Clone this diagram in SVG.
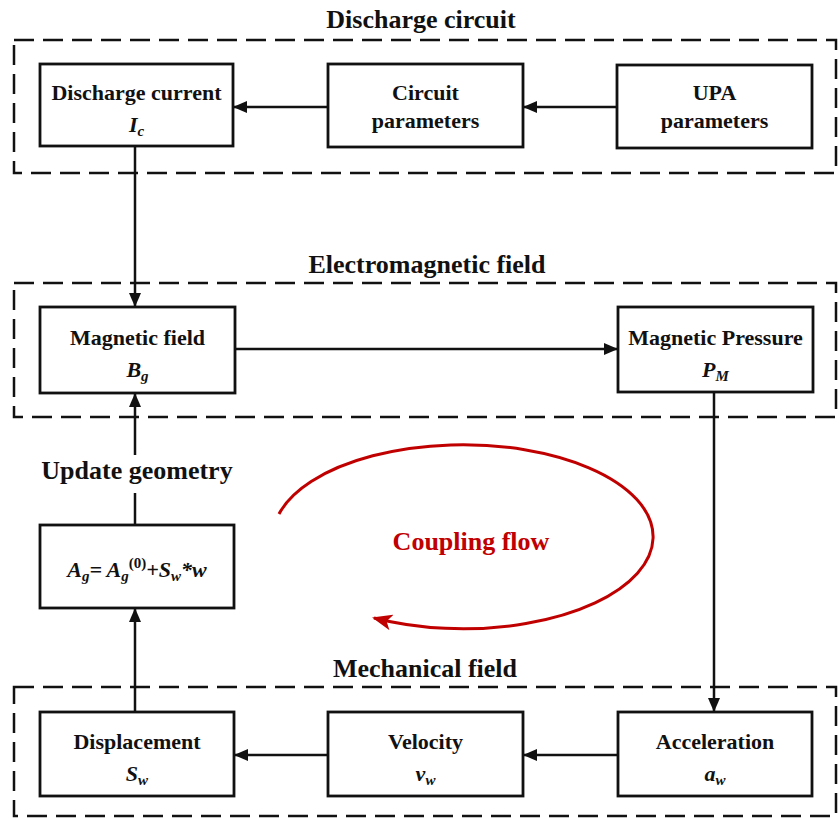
<svg xmlns="http://www.w3.org/2000/svg" width="840" height="818" viewBox="0 0 840 818">
<style>
.grp{fill:none;stroke:#111;stroke-width:2.5;stroke-dasharray:20 9}
.box{fill:#fff;stroke:#111;stroke-width:2.8}
.t{font-family:"Liberation Serif","Times New Roman",serif;font-weight:bold;font-size:22px;fill:#111;text-anchor:middle}
.ttl{font-family:"Liberation Serif","Times New Roman",serif;font-weight:bold;font-size:26px;fill:#111;text-anchor:middle}
.i{font-style:italic}
.s{font-size:15px}
.n{font-style:normal}
.c{stroke:#111;stroke-width:2.5;fill:none}
</style>
<defs>
<marker id="ah" markerUnits="userSpaceOnUse" markerWidth="14" markerHeight="12" viewBox="0 0 14 12" refX="14" refY="6" orient="auto">
<path d="M0,0 L14,6 L0,12 z" fill="#111"/>
</marker>
<marker id="rh" markerUnits="userSpaceOnUse" markerWidth="20" markerHeight="16" viewBox="0 0 20 16" refX="18" refY="8" orient="auto">
<path d="M0,0 L20,8 L0,16 L5,8 z" fill="#c00000"/>
</marker>
</defs>

<g id="group-discharge">
<rect class="grp" x="14" y="40" width="822" height="133"/>
<text class="ttl" x="421" y="28">Discharge circuit</text>
</g>
<g id="group-em">
<rect class="grp" x="14" y="283" width="822" height="134"/>
<text class="ttl" x="427" y="273">Electromagnetic field</text>
</g>
<g id="group-mech">
<rect class="grp" x="14" y="687" width="822" height="129"/>
<text class="ttl" x="425" y="677">Mechanical field</text>
</g>

<g id="connectors">
<line class="c" x1="617" y1="107" x2="523" y2="107" marker-end="url(#ah)"/>
<line class="c" x1="328" y1="107" x2="233" y2="107" marker-end="url(#ah)"/>
<line class="c" x1="135" y1="145" x2="135" y2="307" marker-end="url(#ah)"/>
<line class="c" x1="235" y1="349" x2="618" y2="349" marker-end="url(#ah)"/>
<line class="c" x1="714" y1="392" x2="714" y2="712" marker-end="url(#ah)"/>
<line class="c" x1="618" y1="755" x2="523" y2="755" marker-end="url(#ah)"/>
<line class="c" x1="328" y1="755" x2="234" y2="755" marker-end="url(#ah)"/>
<line class="c" x1="135" y1="712" x2="135" y2="608" marker-end="url(#ah)"/>
<line class="c" x1="135" y1="525" x2="135" y2="493"/>
<line class="c" x1="135" y1="455" x2="135" y2="393" marker-end="url(#ah)"/>
<text class="ttl" x="137" y="479">Update geometry</text>
</g>

<g id="coupling-flow">
<path d="M279,514 A190,92 0 1 1 374,618" fill="none" stroke="#c00000" stroke-width="3" marker-end="url(#rh)"/>
<text class="ttl" x="471" y="550" style="fill:#c00000">Coupling flow</text>
</g>

<g id="node-discharge-current">
<rect class="box" x="40" y="64" width="193" height="82"/>
<text class="t" x="136.5" y="100">Discharge current</text>
<text class="t i" x="136.5" y="132">I<tspan class="s" dy="4">c</tspan></text>
</g>
<g id="node-circuit-parameters">
<rect class="box" x="328" y="64" width="195" height="83"/>
<text class="t" x="425.5" y="100">Circuit</text>
<text class="t" x="425.5" y="128">parameters</text>
</g>
<g id="node-upa-parameters">
<rect class="box" x="617" y="65" width="195" height="83"/>
<text class="t" x="714.5" y="100">UPA</text>
<text class="t" x="714.5" y="128">parameters</text>
</g>
<g id="node-magnetic-field">
<rect class="box" x="40" y="307" width="195" height="86"/>
<text class="t" x="137.5" y="345">Magnetic field</text>
<text class="t i" x="137.5" y="377">B<tspan class="s" dy="4">g</tspan></text>
</g>
<g id="node-magnetic-pressure">
<rect class="box" x="618" y="307" width="195" height="85"/>
<text class="t" x="715.5" y="345">Magnetic Pressure</text>
<text class="t i" x="715.5" y="377">P<tspan class="s" dy="4">M</tspan></text>
</g>
<g id="node-ag">
<rect class="box" x="40" y="525" width="194" height="83"/>
<text class="t i" x="137" y="577">A<tspan class="s" dy="4">g</tspan><tspan dy="-4">= A</tspan><tspan class="s" dy="4">g</tspan><tspan class="s n" dy="-13">(0)</tspan><tspan dy="9">+S</tspan><tspan class="s" dy="4">w</tspan><tspan dy="-4">*w</tspan></text>
</g>
<g id="node-displacement">
<rect class="box" x="40" y="712" width="194" height="84"/>
<text class="t" x="137" y="749">Displacement</text>
<text class="t i" x="137" y="781">S<tspan class="s" dy="4">w</tspan></text>
</g>
<g id="node-velocity">
<rect class="box" x="328" y="712" width="195" height="84"/>
<text class="t" x="425.5" y="749">Velocity</text>
<text class="t i" x="425.5" y="781">v<tspan class="s" dy="4">w</tspan></text>
</g>
<g id="node-acceleration">
<rect class="box" x="618" y="712" width="194" height="84"/>
<text class="t" x="715" y="749">Acceleration</text>
<text class="t i" x="715" y="781">a<tspan class="s" dy="4">w</tspan></text>
</g>
</svg>
